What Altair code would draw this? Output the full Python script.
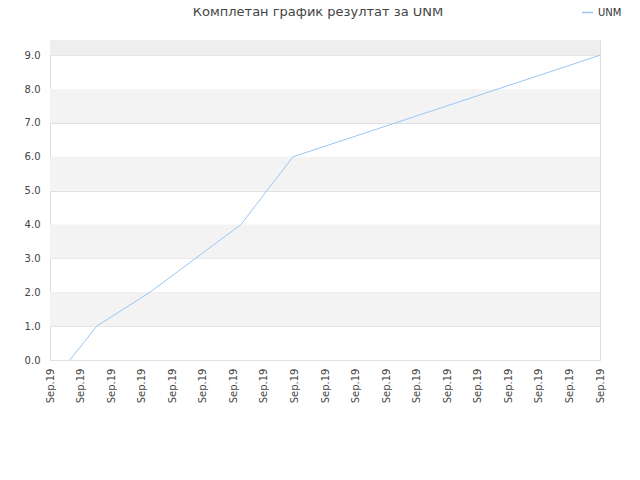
import altair as alt
import pandas as pd

# data
title_text = "Комплетан график резултат за UNM"
x_pos = [0.65, 1.53, 3.27, 6.25, 7.95, 18.0]
y_vals = [0, 1, 2, 4, 6, 9]
series_name = "UNM"
tick_positions = list(range(0, 19))
tick_label = "Sep.19"
y_ticks = list(range(0, 10))
band_starts = [1, 3, 5, 7, 9]
band_ends = [2, 4, 6, 8, 9.45]

line_df = pd.DataFrame({"x": x_pos, "y": y_vals, "series": [series_name] * len(x_pos)})
band_df = pd.DataFrame({"y0": band_starts, "y1": band_ends})
title_df = pd.DataFrame({"t": [title_text]})

FONT = "DejaVu Sans"
y_scale = alt.Scale(domain=[0, 9.45], nice=False, zero=True)
x_scale = alt.Scale(domain=[0, 18], nice=False, zero=False)

y_axis = alt.Axis(
    values=y_ticks,
    format=".1f",
    ticks=False,
    domain=False,
    grid=True,
    gridColor="#e0e0e0",
    labelPadding=10,
    title=None,
    labelFontSize=10,
    labelColor="#444444",
    labelFont=FONT,
)

bands = alt.Chart(band_df).mark_rect().encode(
    x=alt.value(0),
    x2=alt.value(550),
    y=alt.Y("y0:Q", scale=y_scale, axis=y_axis),
    y2="y1:Q",
    fill=alt.condition("datum.y0 >= 9", alt.value("#eeeeee"), alt.value("#f3f3f3")),
)

line = alt.Chart(line_df).mark_line(strokeWidth=1).encode(
    x=alt.X(
        "x:Q",
        scale=x_scale,
        axis=alt.Axis(
            values=tick_positions,
            labelExpr=f"'{tick_label}'",
            labelAngle=-90,
            labelAlign="right",
            labelBaseline="middle",
            labelPadding=8,
            ticks=False,
            domain=False,
            grid=False,
            title=None,
            labelFontSize=10,
            labelColor="#444444",
            labelFont=FONT,
            labelOverlap=False,
        ),
    ),
    y=alt.Y("y:Q", scale=y_scale, axis=y_axis),
    color=alt.Color(
        "series:N",
        scale=alt.Scale(range=["#99c6f5"]),
        legend=alt.Legend(
            title=None,
            orient="none",
            legendX=531,
            legendY=-34,
            symbolType="stroke",
            symbolSize=120,
            symbolStrokeWidth=1.5,
            labelFontSize=10,
            labelFont=FONT,
            labelFontWeight="normal",
            labelColor="#333333",
        ),
    ),
)

title_mark = alt.Chart(title_df).mark_text(
    font=FONT, fontSize=13, color="#444444", align="center", baseline="middle"
).encode(x=alt.value(268), y=alt.value(-28), text="t:N")

chart = alt.layer(bands, line, title_mark).properties(
    width=550,
    height=320,
    autosize=alt.AutoSizeParams(type="none"),
    padding={"left": 42, "top": 32, "right": 32, "bottom": 112},
).configure_view(stroke="#dddddd", strokeWidth=1).configure(background="white")

chart.save("out.html", embed_options={"renderer": "svg", "actions": False})
